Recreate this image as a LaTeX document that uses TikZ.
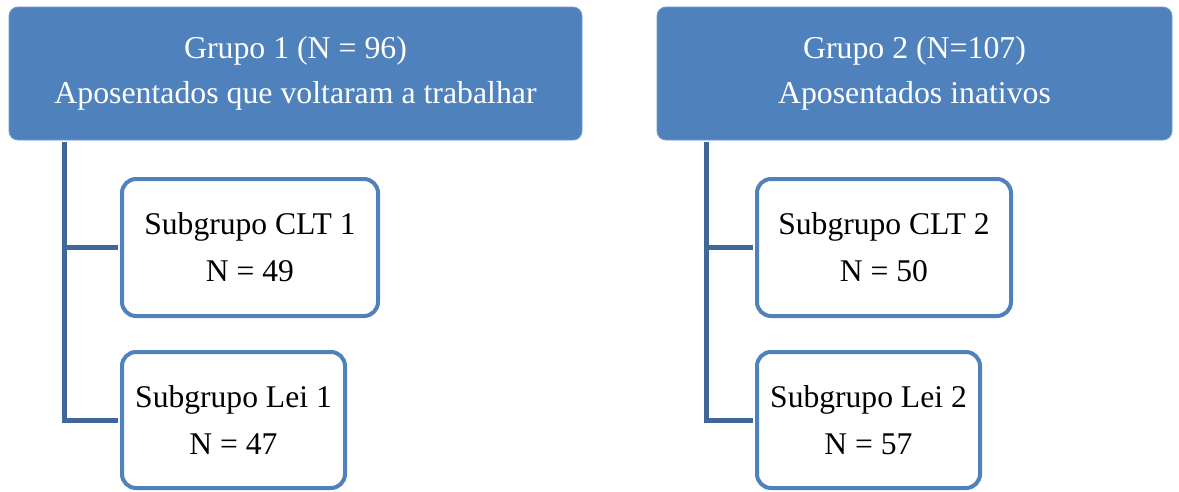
\documentclass[tikz,border=0pt]{standalone}
\usepackage{fontspec}
\setmainfont{Liberation Serif}
\definecolor{hdrblue}{HTML}{4F81BD}
\definecolor{connblue}{HTML}{3F6797}
\tikzset{
  hdrbox/.style={rectangle, rounded corners=9pt, fill=hdrblue, draw=hdrblue!80!white, line width=0.8pt,
    text=white, align=center, inner sep=0pt, font=\fontsize{31.8}{45}\selectfont},
  subbox/.style={rectangle, rounded corners=14pt, fill=white, draw=hdrblue, line width=4pt,
    text=black, align=center, inner sep=0pt, font=\fontsize{31.6}{47}\selectfont},
  conn/.style={draw=connblue, line width=5pt}
}
\begin{document}
\begin{tikzpicture}[x=1pt,y=-1pt]
\useasboundingbox (0,0) rectangle (1179,491);
\node[hdrbox, minimum width=573pt, minimum height=133pt] (G1) at (295.5,73.5) {Grupo 1 (N = 96)\\Aposentados que voltaram a trabalhar};
\node[hdrbox, minimum width=515pt, minimum height=133pt] (G2) at (914.5,73.5) {Grupo 2 (N=107)\\Aposentados inativos};
\node[subbox, minimum width=256pt, minimum height=137pt] (C1) at (250,247.5) {Subgrupo CLT 1\\N = 49};
\node[subbox, minimum width=223pt, minimum height=136pt] (L1) at (233.5,420) {Subgrupo Lei 1\\N = 47};
\node[subbox, minimum width=254pt, minimum height=137pt] (C2) at (884,247.5) {Subgrupo CLT 2\\N = 50};
\node[subbox, minimum width=223pt, minimum height=136pt] (L2) at (868.5,420) {Subgrupo Lei 2\\N = 57};
\coordinate (t1) at ([xshift=56pt,yshift=-2pt]G1.south west);
\coordinate (t2) at ([xshift=50pt,yshift=-2pt]G2.south west);
\draw[conn] (t1) |- ([xshift=-2pt]C1.west);
\draw[conn] (t1) |- ([xshift=-2pt]L1.west);
\draw[conn] (t2) |- ([xshift=-2pt]C2.west);
\draw[conn] (t2) |- ([xshift=-2pt]L2.west);
\end{tikzpicture}
\end{document}
